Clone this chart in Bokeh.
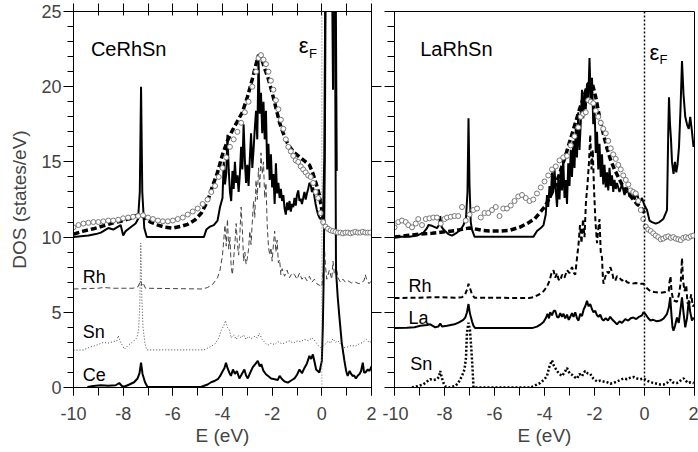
from bokeh.plotting import figure
from bokeh.layouts import row
from bokeh.models import Range1d, LinearAxis, FixedTicker, SingleIntervalTicker, Span
from bokeh.core.properties import value
from bokeh.embed import file_html
from bokeh.resources import INLINE

FONT = "Liberation Sans"

# ---------------- CeRhSn (left panel) ----------------
ce_total = [(-10.0, 10.0), (-9.7, 10.05), (-9.4, 10.1), (-9.1, 10.2), (-8.9, 10.3), (-8.7, 10.5), (-8.6, 10.6),
            (-8.4, 10.5), (-8.2, 10.7), (-8.1, 10.8), (-8.0, 10.1), (-7.9, 10.4), (-7.7, 10.65), (-7.5, 10.9),
            (-7.4, 11.2), (-7.33, 13.0), (-7.28, 20.0), (-7.23, 13.0), (-7.15, 10.6), (-7.05, 10.0), (-4.75, 10.0),
            (-4.65, 10.5), (-4.5, 10.7), (-4.35, 10.8), (-4.2, 11.1), (-4.1, 12.0), (-4.0, 12.6), (-3.95, 15.0),
            (-3.9, 13.5), (-3.85, 14.2), (-3.8, 16.8), (-3.75, 14.5), (-3.7, 13.0), (-3.65, 12.4), (-3.6, 14.4),
            (-3.55, 13.2), (-3.5, 15.0), (-3.45, 13.6), (-3.4, 14.1), (-3.35, 13.0), (-3.3, 14.2), (-3.25, 16.0),
            (-3.2, 14.5), (-3.15, 17.5), (-3.1, 15.1), (-3.05, 13.6), (-3.0, 14.8), (-2.95, 13.4), (-2.9, 15.2),
            (-2.85, 16.9), (-2.8, 14.6), (-2.75, 15.8), (-2.7, 17.2), (-2.65, 18.4), (-2.6, 16.5), (-2.55, 21.8),
            (-2.5, 18.2), (-2.45, 19.6), (-2.4, 16.9), (-2.35, 19.0), (-2.3, 16.5), (-2.25, 18.4), (-2.2, 14.5),
            (-2.15, 16.2), (-2.1, 13.8), (-2.05, 15.5), (-2.0, 13.3), (-1.95, 14.2), (-1.9, 12.2), (-1.85, 14.9),
            (-1.8, 12.9), (-1.75, 13.6), (-1.7, 12.6), (-1.65, 13.2), (-1.6, 12.4), (-1.55, 12.8), (-1.5, 11.9),
            (-1.45, 11.5), (-1.4, 12.3), (-1.35, 11.8), (-1.3, 12.4), (-1.25, 11.7), (-1.2, 12.2), (-1.15, 12.0),
            (-1.1, 12.6), (-1.05, 12.1), (-1.0, 12.8), (-0.95, 13.1), (-0.9, 12.4), (-0.85, 12.55), (-0.8, 12.2),
            (-0.75, 12.6), (-0.7, 13.0), (-0.65, 12.5), (-0.6, 12.9), (-0.55, 13.2), (-0.5, 13.6), (-0.45, 13.5),
            (-0.4, 13.0), (-0.35, 13.3), (-0.3, 12.7), (-0.25, 12.2), (-0.2, 11.8), (-0.15, 11.5), (-0.1, 11.3),
            (-0.05, 11.2), (0.0, 11.3), (0.05, 11.5), (0.1, 15.3), (0.15, 30.0), (0.4, 30.0), (0.45, 19.8),
            (0.5, 30.0), (0.55, 30.0), (0.6, 14.4)]

ce_broad = [(-10.0, 10.2), (-9.6, 10.4), (-9.2, 10.55), (-8.8, 10.75), (-8.4, 10.95), (-8.0, 11.1), (-7.7, 11.25),
            (-7.45, 11.45), (-7.3, 11.55), (-7.15, 11.3), (-6.9, 11.0), (-6.6, 10.8), (-6.3, 10.65), (-6.0, 10.6),
            (-5.7, 10.7), (-5.4, 10.85), (-5.1, 11.15), (-4.85, 11.6), (-4.6, 12.4), (-4.4, 13.4), (-4.2, 14.3),
            (-4.0, 15.5), (-3.8, 16.4), (-3.6, 17.1), (-3.4, 17.7), (-3.2, 18.3), (-3.0, 19.3), (-2.8, 20.5),
            (-2.65, 21.5), (-2.55, 22.1), (-2.45, 22.0), (-2.3, 21.2), (-2.15, 20.5), (-2.0, 19.6), (-1.85, 18.6),
            (-1.7, 17.6), (-1.55, 16.9), (-1.4, 16.3), (-1.25, 15.9), (-1.1, 15.6), (-0.95, 15.4), (-0.8, 15.2),
            (-0.65, 15.0), (-0.5, 14.8), (-0.35, 14.2), (-0.2, 13.4), (-0.1, 12.8), (0.0, 11.8), (0.1, 10.8)]

ce_exp = [(-10.0, 10.65), (-9.8, 10.8), (-9.6, 10.9), (-9.4, 10.95), (-9.2, 11.0), (-9.0, 11.0), (-8.8, 11.05),
          (-8.6, 11.1), (-8.4, 11.1), (-8.2, 11.15), (-8.0, 11.25), (-7.8, 11.3), (-7.6, 11.35), (-7.4, 11.4),
          (-7.2, 11.45), (-7.0, 11.3), (-6.8, 11.2), (-6.6, 11.1), (-6.4, 11.05), (-6.2, 11.05), (-6.0, 11.1),
          (-5.8, 11.2), (-5.6, 11.3), (-5.4, 11.5), (-5.2, 11.7), (-5.0, 11.9), (-4.8, 12.2), (-4.6, 12.5),
          (-4.45, 13.0), (-4.3, 13.4), (-4.15, 14.0), (-4.0, 14.6), (-3.85, 15.3), (-3.7, 16.0), (-3.55, 16.5),
          (-3.4, 17.0), (-3.25, 17.6), (-3.1, 18.3), (-2.95, 19.0), (-2.8, 20.0), (-2.65, 21.0), (-2.55, 21.9),
          (-2.45, 22.1), (-2.35, 21.8), (-2.25, 21.5), (-2.15, 21.0), (-2.05, 20.4), (-1.95, 19.8), (-1.85, 19.1),
          (-1.75, 18.5), (-1.65, 17.8), (-1.55, 17.2), (-1.45, 16.5), (-1.35, 16.0), (-1.25, 15.7), (-1.15, 15.4),
          (-1.05, 15.1), (-0.95, 15.0), (-0.85, 14.7), (-0.75, 14.5), (-0.65, 14.3), (-0.55, 14.1), (-0.45, 14.0),
          (-0.35, 13.6), (-0.25, 13.0), (-0.15, 12.6), (-0.05, 11.6), (0.05, 11.0), (0.15, 10.7), (0.25, 10.55),
          (0.35, 10.45), (0.45, 10.4), (0.55, 10.35), (0.65, 10.3), (0.75, 10.3), (0.85, 10.25), (0.95, 10.3),
          (1.05, 10.3), (1.15, 10.25), (1.25, 10.3), (1.35, 10.35), (1.45, 10.3), (1.55, 10.3), (1.65, 10.35),
          (1.75, 10.3), (1.85, 10.3), (1.95, 10.3)]

ce_rh = [(-10.0, 6.55), (-9.0, 6.6), (-8.8, 6.65), (-8.4, 6.6), (-7.6, 6.6), (-7.4, 6.7), (-7.3, 7.1), (-7.25, 6.8),
         (-7.2, 6.95), (-7.1, 6.6), (-4.8, 6.55), (-4.6, 6.65), (-4.4, 6.85), (-4.2, 7.3), (-4.1, 7.8), (-4.0, 8.8),
         (-3.95, 9.8), (-3.9, 10.8), (-3.85, 9.4), (-3.8, 11.2), (-3.75, 9.2), (-3.7, 10.0), (-3.65, 8.0),
         (-3.6, 7.5), (-3.55, 8.6), (-3.5, 9.6), (-3.45, 10.9), (-3.4, 9.5), (-3.35, 8.8), (-3.3, 10.2),
         (-3.25, 12.0), (-3.2, 10.5), (-3.15, 8.4), (-3.1, 9.0), (-3.05, 8.2), (-3.0, 8.6), (-2.95, 9.2),
         (-2.9, 10.4), (-2.85, 9.5), (-2.8, 11.0), (-2.75, 12.4), (-2.7, 11.3), (-2.65, 13.8), (-2.6, 12.5),
         (-2.55, 14.6), (-2.5, 13.2), (-2.45, 15.6), (-2.4, 14.2), (-2.35, 15.0), (-2.3, 12.6), (-2.25, 13.6),
         (-2.2, 10.8), (-2.15, 9.4), (-2.1, 8.8), (-2.05, 9.3), (-2.0, 8.4), (-1.95, 9.5), (-1.9, 10.4),
         (-1.85, 9.0), (-1.8, 9.8), (-1.75, 8.3), (-1.7, 8.5), (-1.65, 7.5), (-1.6, 7.9), (-1.5, 7.4), (-1.4, 7.8),
         (-1.3, 7.3), (-1.2, 7.6), (-1.1, 7.5), (-1.0, 7.2), (-0.9, 7.6), (-0.8, 7.2), (-0.7, 7.4), (-0.6, 7.1),
         (-0.5, 7.4), (-0.4, 7.0), (-0.3, 7.2), (-0.2, 6.9), (-0.1, 6.8), (0.0, 6.7), (0.05, 7.6), (0.1, 9.5),
         (0.15, 8.0), (0.2, 7.2), (0.3, 7.8), (0.4, 7.2), (0.45, 8.4), (0.5, 7.6), (0.6, 7.8), (0.65, 7.3),
         (0.75, 7.0), (0.85, 7.2), (0.95, 7.0), (1.05, 7.1), (1.2, 6.95), (1.35, 7.0), (1.5, 6.9), (1.6, 7.0),
         (1.7, 7.1), (1.75, 7.5), (1.8, 7.2), (1.9, 6.9), (2.0, 7.1)]

ce_sn = [(-10.0, 2.48), (-9.6, 2.5), (-9.4, 2.65), (-9.1, 2.8), (-8.8, 3.0), (-8.6, 2.95), (-8.4, 3.05),
         (-8.25, 3.1), (-8.2, 3.45), (-8.1, 3.0), (-7.95, 2.55), (-7.8, 2.8), (-7.6, 3.05), (-7.45, 3.3),
         (-7.38, 3.8), (-7.33, 5.5), (-7.29, 9.6), (-7.25, 6.0), (-7.2, 4.0), (-7.12, 2.9), (-7.05, 2.5),
         (-4.75, 2.5), (-4.5, 2.7), (-4.3, 2.9), (-4.15, 3.3), (-4.05, 3.8), (-3.95, 4.1), (-3.88, 4.45),
         (-3.8, 4.0), (-3.72, 3.8), (-3.65, 3.3), (-3.55, 3.5), (-3.45, 3.2), (-3.35, 3.45), (-3.25, 3.3),
         (-3.15, 3.5), (-3.05, 3.2), (-2.95, 3.4), (-2.85, 3.25), (-2.7, 3.4), (-2.6, 3.3), (-2.52, 3.6),
         (-2.4, 3.2), (-2.3, 3.0), (-2.18, 2.8), (-2.05, 2.95), (-1.9, 2.85), (-1.77, 3.05), (-1.6, 2.9),
         (-1.45, 3.0), (-1.3, 3.1), (-1.15, 2.95), (-1.0, 3.1), (-0.85, 3.05), (-0.7, 3.2), (-0.55, 3.1),
         (-0.4, 3.3), (-0.3, 3.15), (-0.15, 2.8), (-0.05, 2.65), (0.05, 2.75), (0.15, 2.9), (0.25, 3.1),
         (0.35, 2.95), (0.45, 3.25), (0.55, 3.0), (0.65, 3.1), (0.75, 2.9), (0.9, 2.65), (1.05, 2.7), (1.2, 2.8),
         (1.35, 2.75), (1.5, 2.9), (1.65, 3.0), (1.8, 3.2), (1.9, 3.0), (2.0, 3.05)]

ce_ce = [(-9.44, 0.03), (-9.2, 0.1), (-8.9, 0.15), (-8.6, 0.12), (-8.3, 0.15), (-8.16, 0.3), (-8.05, 0.1),
         (-7.96, 0.05), (-7.75, 0.2), (-7.56, 0.35), (-7.42, 0.6), (-7.34, 0.95), (-7.28, 1.65), (-7.22, 0.9),
         (-7.12, 0.35), (-7.02, 0.03), (-4.87, 0.03), (-4.6, 0.2), (-4.46, 0.35), (-4.3, 0.45), (-4.19, 0.55),
         (-4.1, 0.75), (-3.99, 1.1), (-3.92, 1.3), (-3.86, 1.65), (-3.8, 1.3), (-3.73, 1.0), (-3.66, 0.77),
         (-3.58, 1.2), (-3.5, 0.9), (-3.42, 1.1), (-3.32, 0.6), (-3.22, 0.9), (-3.12, 1.2), (-3.05, 0.8),
         (-2.98, 0.6), (-2.88, 1.0), (-2.78, 1.35), (-2.68, 1.55), (-2.58, 1.77), (-2.5, 1.4), (-2.44, 1.55),
         (-2.35, 1.1), (-2.25, 0.88), (-2.15, 0.75), (-2.04, 0.6), (-1.9, 0.55), (-1.77, 0.5), (-1.7, 0.77),
         (-1.6, 0.55), (-1.5, 0.4), (-1.37, 0.32), (-1.25, 0.45), (-1.1, 0.6), (-1.0, 0.85), (-0.9, 1.2),
         (-0.8, 0.95), (-0.7, 1.3), (-0.6, 1.6), (-0.5, 2.1), (-0.43, 1.9), (-0.36, 2.2), (-0.28, 1.6),
         (-0.23, 1.2), (-0.1, 1.0), (0.0, 1.77), (0.04, 4.0), (0.07, 6.9), (0.12, 15.0), (0.16, 30.0),
         (0.52, 30.0), (0.57, 7.8), (0.64, 6.0), (0.71, 4.65), (0.8, 3.0), (0.91, 1.77), (0.98, 1.1), (1.04, 0.77),
         (1.12, 1.1), (1.18, 0.9), (1.24, 0.77), (1.3, 0.8), (1.37, 0.6), (1.45, 0.8), (1.52, 0.9), (1.58, 1.1),
         (1.65, 1.65), (1.7, 1.0), (1.76, 1.0), (1.85, 1.2), (1.92, 1.1), (2.0, 1.4)]

# ---------------- LaRhSn (right panel) ----------------
la_total = [(-10.0, 10.03), (-9.4, 10.03), (-9.1, 10.1), (-8.84, 10.3), (-8.7, 10.6), (-8.64, 10.8), (-8.5, 10.75),
            (-8.3, 10.6), (-8.22, 10.8), (-8.17, 11.4), (-8.12, 10.7), (-8.04, 10.5), (-7.85, 10.2), (-7.7, 10.1),
            (-7.5, 10.3), (-7.35, 10.5), (-7.24, 10.8), (-7.14, 11.3), (-7.08, 13.0), (-7.04, 17.9), (-7.0, 13.5),
            (-6.95, 11.0), (-6.9, 10.5), (-6.8, 10.03), (-4.44, 10.03), (-4.3, 10.4), (-4.15, 10.6), (-4.04, 10.8),
            (-3.95, 11.5), (-3.9, 12.8), (-3.85, 12.0), (-3.8, 13.4), (-3.75, 12.6), (-3.7, 14.3), (-3.65, 13.0),
            (-3.6, 14.5), (-3.55, 13.2), (-3.5, 12.0), (-3.45, 13.8), (-3.4, 12.5), (-3.35, 14.6), (-3.3, 13.1),
            (-3.25, 15.2), (-3.2, 12.6), (-3.15, 13.8), (-3.1, 12.2), (-3.05, 14.9), (-3.0, 13.4), (-2.95, 15.8),
            (-2.9, 14.0), (-2.85, 16.4), (-2.8, 14.6), (-2.75, 17.2), (-2.7, 15.3), (-2.65, 18.3), (-2.6, 15.8),
            (-2.55, 17.6), (-2.5, 19.8), (-2.45, 17.9), (-2.4, 19.6), (-2.35, 18.5), (-2.3, 20.2), (-2.25, 19.0),
            (-2.2, 21.9), (-2.15, 19.2), (-2.1, 20.6), (-2.05, 17.5), (-2.0, 18.8), (-1.95, 15.6), (-1.9, 17.0),
            (-1.85, 14.5), (-1.8, 16.2), (-1.75, 14.0), (-1.7, 15.5), (-1.65, 13.5), (-1.6, 14.8), (-1.55, 13.3),
            (-1.5, 14.3), (-1.45, 13.1), (-1.4, 14.6), (-1.35, 13.4), (-1.3, 14.1), (-1.25, 13.0), (-1.2, 13.8),
            (-1.15, 13.2), (-1.1, 13.6), (-1.0, 13.0), (-0.9, 13.5), (-0.8, 12.8), (-0.7, 13.3), (-0.6, 12.7),
            (-0.5, 13.1), (-0.4, 12.5), (-0.3, 12.9), (-0.2, 12.3), (-0.1, 12.6), (0.0, 12.1), (0.1, 11.8),
            (0.2, 11.1), (0.3, 11.0), (0.45, 10.9), (0.6, 11.0), (0.75, 11.2), (0.9, 11.8), (0.95, 17.0),
            (0.98, 19.3), (1.02, 17.5), (1.06, 16.5), (1.1, 15.0), (1.16, 14.2), (1.22, 15.0), (1.27, 14.3),
            (1.32, 14.8), (1.38, 16.0), (1.44, 18.5), (1.5, 21.7), (1.56, 19.5), (1.63, 18.0), (1.7, 17.5),
            (1.77, 17.2), (1.83, 18.0), (1.9, 17.0), (1.96, 16.0), (2.0, 16.4)]

la_broad = [(-10.0, 10.0), (-9.5, 10.1), (-9.0, 10.2), (-8.5, 10.25), (-8.0, 10.35), (-7.5, 10.45), (-7.2, 10.55),
            (-7.0, 10.6), (-6.8, 10.55), (-6.5, 10.45), (-6.2, 10.4), (-5.8, 10.4), (-5.4, 10.45), (-5.0, 10.65),
            (-4.7, 10.9), (-4.4, 11.2), (-4.2, 11.6), (-4.0, 12.0), (-3.8, 12.6), (-3.6, 13.3), (-3.4, 14.2),
            (-3.2, 15.2), (-3.0, 16.3), (-2.8, 17.4), (-2.6, 18.5), (-2.4, 19.5), (-2.25, 20.2), (-2.1, 20.3),
            (-1.95, 19.3), (-1.8, 18.0), (-1.65, 16.9), (-1.5, 15.9), (-1.35, 15.1), (-1.2, 14.5), (-1.05, 14.0),
            (-0.9, 13.5), (-0.75, 13.1), (-0.6, 12.8), (-0.45, 12.5), (-0.3, 12.2), (-0.15, 12.0), (0.0, 11.6)]

la_exp = [(-10.0, 10.65), (-9.85, 11.0), (-9.7, 11.1), (-9.55, 11.0), (-9.45, 10.8), (-9.3, 10.65), (-9.15, 10.9),
          (-9.05, 11.2), (-8.9, 10.8), (-8.75, 11.2), (-8.6, 11.25), (-8.45, 11.3), (-8.3, 11.3), (-8.15, 10.9),
          (-8.0, 11.2), (-7.9, 11.3), (-7.75, 11.35), (-7.6, 11.4), (-7.45, 11.4), (-7.3, 12.0), (-7.15, 11.1),
          (-7.0, 11.5), (-6.85, 11.8), (-6.7, 11.9), (-6.55, 11.3), (-6.4, 11.6), (-6.25, 11.6), (-6.1, 11.8),
          (-5.95, 12.0), (-5.8, 11.4), (-5.65, 11.9), (-5.5, 11.9), (-5.35, 12.1), (-5.2, 12.4), (-5.05, 12.7),
          (-4.9, 12.8), (-4.75, 12.6), (-4.6, 12.4), (-4.45, 12.5), (-4.3, 12.9), (-4.15, 13.3), (-4.0, 13.7),
          (-3.85, 14.1), (-3.7, 14.5), (-3.55, 14.7), (-3.4, 15.1), (-3.25, 15.3), (-3.1, 15.4), (-2.95, 16.1),
          (-2.8, 16.7), (-2.65, 17.3), (-2.55, 18.0), (-2.45, 18.2), (-2.35, 18.3), (-2.25, 19.1), (-2.15, 19.0),
          (-2.05, 18.9), (-1.95, 18.4), (-1.85, 18.0), (-1.75, 17.6), (-1.65, 17.2), (-1.55, 16.9), (-1.45, 16.4),
          (-1.35, 15.9), (-1.25, 15.5), (-1.15, 15.2), (-1.05, 14.8), (-0.95, 14.5), (-0.85, 14.1), (-0.75, 13.8),
          (-0.65, 13.5), (-0.55, 13.1), (-0.45, 13.0), (-0.35, 12.9), (-0.25, 12.4), (-0.15, 11.8), (-0.05, 11.2),
          (0.05, 10.7), (0.15, 10.5), (0.25, 10.4), (0.35, 10.25), (0.45, 10.1), (0.55, 10.0), (0.65, 9.85),
          (0.75, 9.9), (0.85, 10.0), (0.95, 10.05), (1.05, 9.95), (1.15, 10.0), (1.25, 9.9), (1.35, 9.85),
          (1.45, 9.8), (1.55, 9.95), (1.65, 10.0), (1.75, 9.95), (1.85, 10.05), (1.95, 10.1)]

la_rh = [(-10.0, 5.95), (-9.0, 5.97), (-8.5, 6.0), (-8.2, 6.0), (-7.6, 5.97), (-7.3, 6.0), (-7.17, 6.2), (-7.08, 6.6),
         (-7.04, 6.9), (-7.0, 6.7), (-6.9, 6.2), (-6.8, 5.97), (-4.6, 5.95), (-4.44, 6.0), (-4.2, 6.2), (-4.04, 6.4),
         (-3.9, 6.7), (-3.8, 7.1), (-3.72, 7.6), (-3.64, 7.8), (-3.57, 7.3), (-3.5, 7.6), (-3.44, 7.2),
         (-3.37, 7.1), (-3.3, 7.5), (-3.2, 7.3), (-3.1, 7.8), (-3.0, 7.6), (-2.9, 8.0), (-2.82, 7.6), (-2.77, 7.5),
         (-2.7, 8.6), (-2.64, 9.5), (-2.58, 10.8), (-2.52, 9.6), (-2.46, 11.2), (-2.4, 10.0), (-2.34, 12.4),
         (-2.28, 13.5), (-2.22, 15.0), (-2.17, 16.8), (-2.12, 14.5), (-2.07, 15.8), (-2.02, 13.2), (-1.96, 11.0),
         (-1.9, 9.6), (-1.85, 10.5), (-1.8, 11.2), (-1.75, 9.0), (-1.7, 8.65), (-1.67, 7.5), (-1.64, 6.9),
         (-1.58, 7.3), (-1.5, 7.7), (-1.43, 7.6), (-1.37, 8.0), (-1.3, 7.7), (-1.24, 7.2), (-1.17, 7.1),
         (-1.1, 7.4), (-1.0, 7.3), (-0.9, 7.1), (-0.8, 7.2), (-0.7, 7.0), (-0.6, 6.95), (-0.5, 6.9), (-0.35, 6.95),
         (-0.2, 6.9), (-0.04, 6.9), (0.1, 6.6), (0.24, 6.4), (0.4, 6.35), (0.64, 6.3), (0.85, 6.35), (0.97, 6.4),
         (1.0, 7.0), (1.04, 7.4), (1.08, 6.4), (1.15, 5.8), (1.3, 5.7), (1.38, 6.2), (1.45, 7.0), (1.5, 8.6),
         (1.54, 7.2), (1.6, 6.4), (1.67, 6.8), (1.72, 5.6), (1.8, 5.6), (1.87, 6.2), (1.93, 5.4), (2.0, 5.5)]

la_la = [(-10.0, 3.95), (-9.5, 3.97), (-9.2, 4.0), (-8.97, 4.1), (-8.7, 4.15), (-8.57, 4.2), (-8.47, 4.1),
         (-8.37, 4.0), (-8.25, 4.05), (-8.17, 4.25), (-8.1, 4.05), (-7.9, 4.1), (-7.6, 4.2), (-7.4, 4.35),
         (-7.25, 4.5), (-7.17, 4.65), (-7.1, 5.0), (-7.04, 5.55), (-6.98, 4.9), (-6.9, 4.4), (-6.84, 4.1),
         (-6.77, 3.95), (-4.5, 3.95), (-4.3, 4.05), (-4.15, 4.2), (-4.04, 4.35), (-3.95, 4.6), (-3.88, 4.9),
         (-3.82, 4.6), (-3.77, 5.0), (-3.7, 4.8), (-3.63, 5.1), (-3.57, 5.1), (-3.5, 4.7), (-3.44, 4.65),
         (-3.37, 4.95), (-3.3, 4.7), (-3.24, 4.9), (-3.17, 4.6), (-3.1, 4.85), (-3.03, 4.5), (-2.97, 4.7),
         (-2.9, 4.95), (-2.84, 4.7), (-2.77, 5.0), (-2.7, 4.6), (-2.64, 4.45), (-2.57, 4.9), (-2.5, 4.75),
         (-2.43, 5.2), (-2.37, 5.4), (-2.3, 5.77), (-2.24, 5.4), (-2.17, 5.55), (-2.1, 5.2), (-2.04, 5.0),
         (-1.97, 5.1), (-1.9, 4.8), (-1.84, 4.7), (-1.77, 4.85), (-1.7, 4.55), (-1.64, 4.45), (-1.55, 4.6),
         (-1.46, 4.45), (-1.37, 4.7), (-1.28, 4.5), (-1.19, 4.35), (-1.1, 4.2), (-1.0, 4.4), (-0.9, 4.3),
         (-0.77, 4.55), (-0.65, 4.45), (-0.55, 4.6), (-0.44, 4.65), (-0.33, 4.55), (-0.22, 4.7), (-0.1, 4.8),
         (-0.04, 5.0), (0.05, 4.85), (0.15, 4.6), (0.24, 4.45), (0.35, 4.5), (0.5, 4.4), (0.64, 4.45),
         (0.77, 4.6), (0.9, 4.9), (0.97, 5.3), (1.03, 6.0), (1.08, 4.8), (1.12, 4.0), (1.16, 3.77), (1.22, 4.1),
         (1.3, 4.65), (1.37, 4.3), (1.44, 5.2), (1.5, 6.0), (1.56, 5.0), (1.63, 4.0), (1.7, 4.6), (1.77, 5.8),
         (1.83, 5.0), (1.9, 4.45), (1.97, 4.65)]

la_sn = [(-9.3, 0.0), (-9.05, 0.1), (-8.84, 0.22), (-8.7, 0.4), (-8.57, 0.55), (-8.44, 0.5), (-8.3, 0.55),
         (-8.22, 0.7), (-8.17, 1.1), (-8.1, 0.6), (-8.04, 0.3), (-7.95, 0.05), (-7.8, 0.0), (-7.57, 0.1),
         (-7.45, 0.3), (-7.3, 0.77), (-7.2, 1.2), (-7.14, 2.0), (-7.1, 3.7), (-7.04, 4.3), (-6.98, 3.8),
         (-6.92, 2.4), (-6.87, 1.0), (-6.84, 0.0), (-4.55, 0.0), (-4.3, 0.2), (-4.17, 0.3), (-4.0, 0.55),
         (-3.9, 0.77), (-3.82, 1.3), (-3.77, 1.55), (-3.7, 1.8), (-3.64, 1.5), (-3.57, 1.3), (-3.5, 1.1),
         (-3.4, 0.9), (-3.3, 0.77), (-3.2, 1.0), (-3.1, 1.3), (-3.0, 0.95), (-2.9, 0.85), (-2.8, 0.7), (-2.7, 0.6),
         (-2.6, 0.9), (-2.5, 0.75), (-2.42, 1.0), (-2.37, 1.1), (-2.28, 0.95), (-2.17, 0.9), (-2.05, 0.6),
         (-1.9, 0.4), (-1.77, 0.45), (-1.64, 0.4), (-1.5, 0.35), (-1.37, 0.25), (-1.24, 0.3), (-1.1, 0.4),
         (-0.97, 0.5), (-0.84, 0.6), (-0.7, 0.55), (-0.57, 0.65), (-0.44, 0.7), (-0.3, 0.6), (-0.17, 0.55),
         (-0.04, 0.6), (0.1, 0.45), (0.24, 0.35), (0.37, 0.3), (0.5, 0.25), (0.64, 0.2), (0.77, 0.2), (0.9, 0.3),
         (0.97, 0.45), (1.04, 0.5), (1.12, 0.35), (1.2, 0.3), (1.3, 0.3), (1.4, 0.4), (1.5, 0.55), (1.57, 0.6),
         (1.65, 0.45), (1.75, 0.3), (1.85, 0.35), (1.97, 0.3)]

x_tick_labels = {-10: "-10", -8: "-8", -6: "-6", -4: "-4", -2: "-2", 0: "0", 2: "2"}
y_tick_labels = {0: "0", 5: "5", 10: "10", 15: "15", 20: "20", 25: "25"}


def xy(pairs):
    return [p[0] for p in pairs], [p[1] for p in pairs]


def bare_axis(axis, tick_out):
    # tick marks only, no label text drawn
    axis.major_tick_in = 0
    axis.minor_tick_in = 0
    axis.major_tick_out = tick_out
    axis.major_tick_line_color = "black"
    axis.major_tick_line_width = 1
    axis.major_label_standoff = 0
    axis.major_label_text_font_size = "1px"
    axis.major_label_text_color = None
    axis.major_label_text_alpha = 0
    axis.axis_line_color = "black"


def make_panel(width, border_left, border_right, left_labels):
    p = figure(width=width, height=452, x_range=Range1d(-10, 2), y_range=Range1d(0, 25),
               output_backend="svg", toolbar_location=None,
               min_border_left=border_left, min_border_right=border_right,
               min_border_top=11, min_border_bottom=65,
               x_axis_label="E (eV)", y_axis_label="DOS (states/eV)" if left_labels else None)
    p.xgrid.visible = False
    p.ygrid.visible = False
    p.outline_line_color = "black"
    p.outline_line_width = 1
    p.background_fill_color = "white"
    p.border_fill_color = "white"

    xa = p.xaxis[0]
    xa.ticker = SingleIntervalTicker(interval=2, num_minor_ticks=2)
    xa.major_label_overrides = x_tick_labels
    xa.major_tick_in = 0
    xa.minor_tick_in = 0
    xa.major_tick_out = 8
    xa.minor_tick_out = 8
    xa.major_label_standoff = 11
    xa.axis_label_standoff = 2
    xa.major_label_text_font = FONT
    xa.major_label_text_font_size = "18px"
    xa.axis_label_text_font = FONT
    xa.axis_label_text_font_size = "19px"
    xa.axis_label_text_font_style = "normal"
    xa.axis_line_color = "black"

    ya = p.yaxis[0]
    ya.ticker = SingleIntervalTicker(interval=5, num_minor_ticks=5)
    if left_labels:
        ya.major_tick_in = 0
        ya.minor_tick_in = 0
        ya.axis_line_color = "black"
        ya.major_label_overrides = y_tick_labels
        ya.major_tick_out = 10
        ya.minor_tick_out = 6
        ya.major_label_standoff = 2
        ya.axis_label_standoff = 8
        ya.major_label_text_font = FONT
        ya.major_label_text_font_size = "18px"
        ya.axis_label_text_font = FONT
        ya.axis_label_text_font_size = "19px"
        ya.axis_label_text_font_style = "normal"
    else:
        bare_axis(ya, 10)
        ya.minor_tick_out = 7
    return p


# ---------- left panel ----------
p1 = make_panel(382, 73, 11, True)
p1.title.visible = False
top = LinearAxis(ticker=SingleIntervalTicker(interval=1, num_minor_ticks=0))
bare_axis(top, 8)
top.major_tick_in = 4
top.minor_tick_out = 0
top.major_label_text_color = "white"
p1.add_layout(top, "above")
right = LinearAxis(ticker=FixedTicker(ticks=[5, 10, 15, 20], minor_ticks=[]))
bare_axis(right, 10)
p1.add_layout(right, "right")

p1.add_layout(Span(location=0, dimension="height", line_color="#777777", line_width=1, line_dash="1 2"))

x, y = xy(ce_rh)
p1.line(x, y, line_color="#444444", line_width=1, line_dash="5 3")
x, y = xy(ce_sn)
p1.line(x, y, line_color="#444444", line_width=1, line_dash="1 2")
x, y = xy(ce_ce)
p1.line(x, y, line_color="black", line_width=2)
x, y = xy(ce_total)
p1.line(x, y, line_color="black", line_width=2)
x, y = xy(ce_broad)
p1.line(x, y, line_color="black", line_width=3.5, line_dash="6 3")
x, y = xy(ce_exp)
p1.scatter(x, y, marker="circle", size=5, line_color="#777777", fill_color="white", line_width=1)

p1.text(x=[-9.3], y=[22.5], text=["CeRhSn"], text_font=value(FONT), text_font_size="20px",
        text_baseline="alphabetic", text_color="black")
p1.text(x=[-9.63, -9.63, -9.63], y=[7.32, 3.72, 0.83], text=["Rh", "Sn", "Ce"], text_font=value(FONT),
        text_font_size="18px", text_baseline="alphabetic", text_color="black")
p1.text(x=[-0.93], y=[22.75], text=["ε"], text_font=value(FONT), text_font_size="22px",
        text_baseline="alphabetic", text_color="black")
p1.text(x=[-0.52], y=[22.2], text=["F"], text_font=value(FONT), text_font_size="13px",
        text_baseline="alphabetic", text_color="black")

# ---------- right panel ----------
p2 = make_panel(316, 12, 4, False)

p2.add_layout(Span(location=0, dimension="height", line_color="black", line_width=1.5, line_dash="2 2"))

x, y = xy(la_rh)
p2.line(x, y, line_color="black", line_width=2, line_dash="5 3")
x, y = xy(la_la)
p2.line(x, y, line_color="black", line_width=2)
x, y = xy(la_sn)
p2.line(x, y, line_color="black", line_width=2.5, line_dash="2 2")
x, y = xy(la_total)
p2.line(x, y, line_color="black", line_width=2)
x, y = xy(la_broad)
p2.line(x, y, line_color="black", line_width=3.5, line_dash="6 3")
x, y = xy(la_exp)
p2.scatter(x, y, marker="circle", size=5, line_color="#777777", fill_color="white", line_width=1)

p2.text(x=[-8.97], y=[22.5], text=["LaRhSn"], text_font=value(FONT), text_font_size="20px",
        text_baseline="alphabetic", text_color="black")
p2.text(x=[-9.44, -9.44, -9.37], y=[6.77, 4.65, 1.59], text=["Rh", "La", "Sn"], text_font=value(FONT),
        text_font_size="18px", text_baseline="alphabetic", text_color="black")
p2.text(x=[0.2], y=[22.3], text=["ε"], text_font=value(FONT), text_font_size="22px",
        text_baseline="alphabetic", text_color="black")
p2.text(x=[0.6], y=[21.8], text=["F"], text_font=value(FONT), text_font_size="13px",
        text_baseline="alphabetic", text_color="black")

layout = row(p1, p2)
open("out.html", "w").write(file_html(layout, INLINE))
